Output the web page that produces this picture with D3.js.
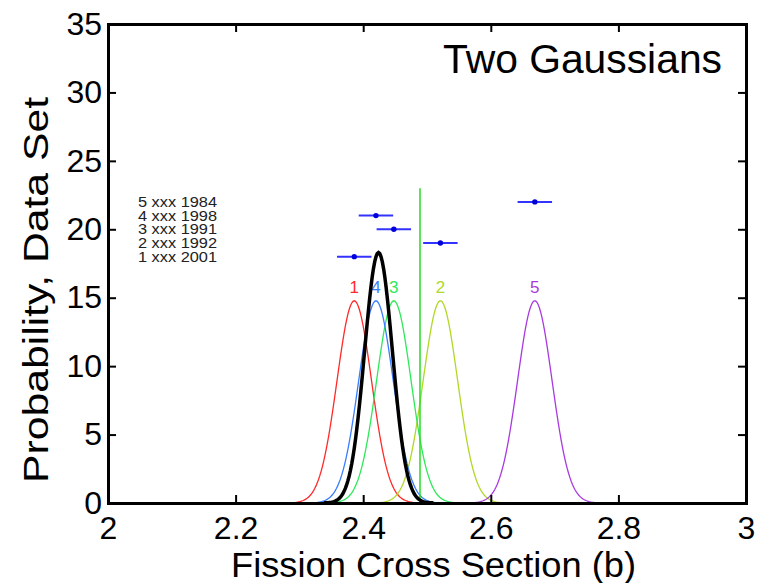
<!DOCTYPE html>
<html lang="en">
<head>
<meta charset="UTF-8">
<title>Two Gaussians</title>
<style>
    body { margin: 0; background: #fff; }
    svg { display: block; font-family: "Liberation Sans", Arial, sans-serif; }
</style>
</head>
<body>
<div id="chart"></div>
<script src="https://d3js.org/d3.v7.min.js"></script>
<script>
// data sets (number, label, measured value, uncertainty, row on the y axis)
const setIds    = [1, 2, 3, 4, 5];
const setNames  = ["1 xxx 2001", "2 xxx 1992", "3 xxx 1991", "4 xxx 1998", "5 xxx 1984"];
const setMeans  = [2.386, 2.521, 2.448, 2.420, 2.669];
const setSigmas = [0.027, 0.027, 0.027, 0.027, 0.027];
const setRows   = [18, 19, 20, 21, 22];
const setColors = ["#ff2a2a", "#b0d826", "#2ee85a", "#3a7dff", "#a93ae0"];

// combined result (black curve) and the green marker line
const combMean = 2.424;
const combSigma = 0.0218;
const markerX = 2.489;
const markerTop = 23;

const xTicks = [2, 2.2, 2.4, 2.6, 2.8, 3];
const yTicks = [0, 5, 10, 15, 20, 25, 30, 35];

const width = 767, height = 583;
const margin = {top: 24, right: 21, bottom: 80, left: 108};

const svg = d3.select("#chart").append("svg")
    .attr("width", width)
    .attr("height", height);

const x = d3.scaleLinear().domain([2, 3]).range([margin.left, width - margin.right]);
const y = d3.scaleLinear().domain([0, 35]).range([height - margin.bottom, margin.top]);

// sample points along x for the curves
const xs = d3.range(2, 3.0001, 0.002);
const normal = (m, s) => v => Math.exp(-0.5 * ((v - m) / s) ** 2) / (s * Math.sqrt(2 * Math.PI));

const line = d3.line()
    .x(d => x(d[0]))
    .y(d => y(d[1]));

const plot = svg.append("g");

// coloured gaussians, one per data set
setIds.forEach((id, i) => {
    const f = normal(setMeans[i], setSigmas[i]);
    const pts = xs.filter(v => Math.abs(v - setMeans[i]) < 4 * setSigmas[i]).map(v => [v, f(v)]);
    plot.append("path")
        .attr("d", line(pts))
        .attr("fill", "none")
        .attr("stroke", setColors[i])
        .attr("stroke-width", 1.3);
    plot.append("text")
        .attr("x", x(setMeans[i]))
        .attr("y", y(f(setMeans[i])) - 8)
        .attr("text-anchor", "middle")
        .attr("font-size", 17)
        .attr("fill", setColors[i])
        .text(id);
});

// green vertical line
plot.append("line")
    .attr("x1", x(markerX)).attr("x2", x(markerX))
    .attr("y1", y(0)).attr("y2", y(markerTop))
    .attr("stroke", "#22dd22")
    .attr("stroke-width", 1.5);

// combined curve
const fc = normal(combMean, combSigma);
plot.append("path")
    .attr("d", line(xs.filter(v => Math.abs(v - combMean) < 4 * combSigma).map(v => [v, fc(v)])))
    .attr("fill", "none")
    .attr("stroke", "#000")
    .attr("stroke-width", 3.5);

// error bars
setIds.forEach((id, i) => {
    plot.append("line")
        .attr("x1", x(setMeans[i] - setSigmas[i]))
        .attr("x2", x(setMeans[i] + setSigmas[i]))
        .attr("y1", y(setRows[i])).attr("y2", y(setRows[i]))
        .attr("stroke", "#3333ff")
        .attr("stroke-width", 2);
    plot.append("circle")
        .attr("cx", x(setMeans[i]))
        .attr("cy", y(setRows[i]))
        .attr("r", 2.7)
        .attr("fill", "#0000dd");
    // legend text sits on the same row
    plot.append("text")
        .attr("x", x(2.047))
        .attr("y", y(setRows[i]))
        .attr("dy", "0.36em")
        .attr("font-size", 14)
        .attr("textLength", 79)
        .attr("lengthAdjust", "spacingAndGlyphs")
        .attr("fill", "#222")
        .text(setNames[i]);
});

// axes (ticks pointing inwards on all four sides)
const tickLen = 8;
const fmtX = d3.format("~g");

const xAxis = svg.append("g")
    .attr("transform", `translate(0,${y(0)})`)
    .call(d3.axisBottom(x).tickValues(xTicks).tickSize(-tickLen).tickPadding(13).tickFormat(fmtX));
const xTop = svg.append("g")
    .attr("transform", `translate(0,${y(35)})`)
    .call(d3.axisTop(x).tickValues(xTicks).tickSize(-tickLen).tickFormat(""));
const yAxis = svg.append("g")
    .attr("transform", `translate(${x(2)},0)`)
    .call(d3.axisLeft(y).tickValues(yTicks).tickSize(-tickLen).tickPadding(6));
const yRight = svg.append("g")
    .attr("transform", `translate(${x(3)},0)`)
    .call(d3.axisRight(y).tickValues(yTicks).tickSize(-tickLen).tickFormat(""));

[xAxis, xTop, yAxis, yRight].forEach(g => {
    g.select(".domain").attr("stroke", "#000").attr("stroke-width", 3);
    g.selectAll(".tick line").attr("stroke", "#000").attr("stroke-width", 2);
    g.selectAll(".tick text")
        .attr("font-family", "'Liberation Sans', Arial, sans-serif")
        .attr("font-size", 32)
        .attr("fill", "#000");
});

// axis titles
svg.append("text")
    .attr("x", 433.5)
    .attr("y", 577)
    .attr("text-anchor", "middle")
    .attr("font-size", 35)
    .attr("textLength", 405)
    .attr("lengthAdjust", "spacingAndGlyphs")
    .text("Fission Cross Section (b)");

svg.append("text")
    .attr("transform", `translate(48,290) rotate(-90)`)
    .attr("text-anchor", "middle")
    .attr("font-size", 35)
    .attr("textLength", 386)
    .attr("lengthAdjust", "spacingAndGlyphs")
    .text("Probability, Data Set");

svg.append("text")
    .attr("x", 722)
    .attr("y", 73)
    .attr("text-anchor", "end")
    .attr("font-size", 40)
    .attr("textLength", 279)
    .attr("lengthAdjust", "spacingAndGlyphs")
    .text("Two Gaussians");
</script>
</body>
</html>
